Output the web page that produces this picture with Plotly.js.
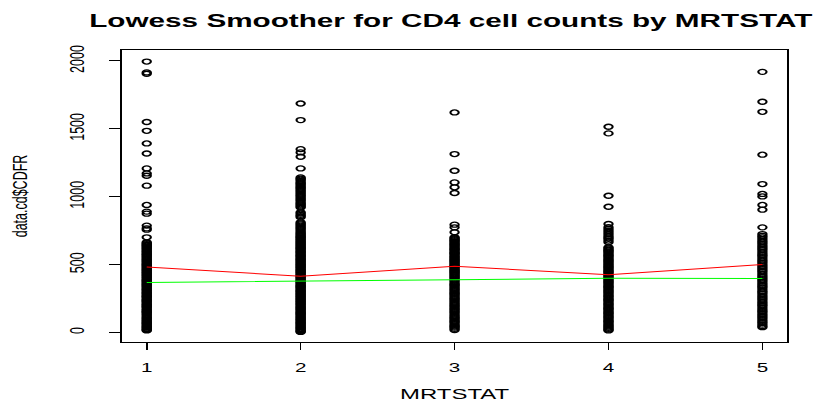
<!DOCTYPE html>
<html>
<head>
<meta charset="utf-8">
<script src="https://cdn.plot.ly/plotly-3.0.1.min.js"></script>
<style>
  html, body { margin: 0; padding: 0; background: #fff; overflow: hidden; }
  /* the figure is laid out narrow and widened horizontally */
  #chart { width: 494px; height: 406px; transform: scaleX(1.65); transform-origin: 0 0; }
</style>
</head>
<body>
<div id="chart"></div>
<script>
// CD4 cell counts (data.cd$CDFR) for each MRTSTAT group
const mrtstatLevels = [1, 2, 3, 4, 5];

const cdfrGroup1 = [1995, 1915, 1905, 1550, 1485, 1392, 1318, 1208, 1171, 1154, 1081, 939, 890, 875,
  787, 767, 757, 701, 664, 658, 651, 645, 640, 633, 627, 620, 614, 607, 600, 594, 588, 580, 575,
  568, 561, 555, 548, 541, 536, 529, 522, 516, 509, 503, 498, 491, 486, 479, 473, 466, 461, 454,
  447, 441, 436, 429, 423, 417, 411, 404, 398, 391, 384, 379, 373, 366, 361, 354, 349, 342, 337,
  330, 322, 316, 311, 304, 297, 291, 285, 278, 271, 266, 262, 255, 247, 241, 236, 230, 224, 217,
  209, 204, 198, 192, 187, 180, 172, 166, 158, 153, 149, 142, 134, 127, 118, 111, 104, 97, 91,
  85, 78, 72, 66, 61, 54, 47, 41, 36, 30, 24, 19, 15];

const cdfrGroup2 = [1686, 1564, 1350, 1326, 1294, 1208, 1142, 1133, 1126, 1117, 1107, 1099, 1091,
  1082, 1074, 1066, 1058, 1049, 1041, 1032, 1023, 1014, 1006, 997, 988, 980, 971, 961, 952, 944,
  936, 928, 921, 885, 876, 866, 857, 848, 811, 803, 796, 787, 779, 771, 763, 754, 745, 737, 729,
  721, 714, 707, 701, 695, 688, 682, 676, 669, 662, 656, 649, 643, 637, 630, 624, 618, 613, 606,
  598, 593, 587, 580, 573, 567, 561, 555, 548, 542, 537, 530, 524, 518, 511, 505, 499, 493, 486,
  480, 475, 468, 461, 456, 450, 444, 438, 431, 424, 419, 413, 407, 401, 394, 387, 382, 376, 370,
  364, 357, 350, 345, 339, 333, 327, 320, 313, 308, 302, 296, 289, 283, 278, 271, 265, 259, 252,
  246, 241, 234, 228, 222, 215, 210, 204, 197, 190, 185, 179, 173, 167, 160, 153, 148, 142, 136,
  130, 123, 116, 111, 104, 98, 93, 86, 79, 74, 68, 62, 56, 49, 42, 37, 31, 25, 19, 13, 8, 4];

const cdfrGroup3 = [1620, 1314, 1191, 1105, 1069, 1027, 794, 774, 738, 701, 694, 687, 680, 673, 666,
  659, 652, 646, 638, 631, 624, 617, 611, 605, 597, 589, 583, 578, 570, 562, 556, 549, 542, 535,
  528, 522, 515, 508, 500, 493, 488, 482, 475, 467, 461, 455, 448, 442, 434, 427, 420, 413, 405,
  397, 389, 381, 371, 361, 354, 347, 338, 329, 321, 313, 304, 295, 287, 279, 270, 261, 253, 245,
  236, 227, 218, 209, 201, 193, 184, 175, 167, 159, 150, 141, 131, 121, 113, 105, 96, 87, 79, 71,
  61, 52, 44, 36, 27, 18];

const cdfrGroup4 = [1515, 1466, 1007, 926, 799, 775, 762, 749, 736, 723, 711, 700, 690, 677, 664,
  627, 620, 611, 604, 598, 590, 581, 573, 565, 557, 549, 540, 532, 525, 518, 509, 501, 493, 485,
  478, 471, 462, 454, 447, 441, 432, 424, 416, 409, 401, 394, 385, 377, 370, 363, 353, 344, 337,
  331, 322, 313, 306, 299, 290, 281, 273, 266, 257, 249, 242, 235, 226, 217, 209, 202, 193, 184,
  177, 171, 162, 153, 146, 139, 130, 121, 114, 107, 98, 89, 82, 75, 66, 57, 50, 43, 35, 27, 21, 15];

const cdfrGroup5 = [1919, 1699, 1625, 1309, 1093, 1020, 1002, 939, 904, 774, 725, 712, 701, 688,
  676, 664, 653, 641, 629, 618, 607, 594, 582, 571, 561, 548, 536, 524, 513, 501, 489, 478, 467,
  456, 446, 432, 419, 409, 398, 386, 375, 362, 351, 341, 331, 318, 305, 296, 285, 272, 261, 250,
  239, 227, 215, 205, 195, 182, 169, 159, 149, 137, 125, 114, 103, 91, 79, 69, 58, 47, 39];

// fitted lowess curves at each MRTSTAT level
const lowessRed = [483, 414, 488, 426, 500];
const lowessGreen = [368, 376, 388, 399, 397];

const groups = [cdfrGroup1, cdfrGroup2, cdfrGroup3, cdfrGroup4, cdfrGroup5];
const pointX = [];
const pointY = [];
groups.forEach((vals, i) => {
  vals.forEach(v => { pointX.push(mrtstatLevels[i]); pointY.push(v); });
});

const font = 'Liberation Sans, Arial, sans-serif';

const traces = [
  {
    type: 'scatter', mode: 'markers', x: pointX, y: pointY,
    marker: { symbol: 'circle-open', size: 5, color: '#000', line: { width: 1.3, color: '#000' } },
    hoverinfo: 'skip', showlegend: false
  },
  {
    type: 'scatter', mode: 'lines', x: mrtstatLevels, y: lowessRed,
    line: { color: '#ff0000', width: 1 }, showlegend: false
  },
  {
    type: 'scatter', mode: 'lines', x: mrtstatLevels, y: lowessGreen,
    line: { color: '#00ff00', width: 1 }, showlegend: false
  }
];

const axisCommon = {
  showgrid: false, zeroline: false,
  showline: true, mirror: true, linecolor: '#000', linewidth: 1,
  ticks: 'outside', tickcolor: '#000', tickwidth: 1,
  automargin: false,
  tickfont: { family: font, size: 12.5, color: '#000' }
};

const layout = {
  width: 494, height: 406,
  margin: { l: 74, r: 17, t: 50, b: 64 },
  paper_bgcolor: '#fff', plot_bgcolor: '#fff',
  showlegend: false,
  title: {
    text: '<b>Lowess Smoother for CD4 cell counts by MRTSTAT</b>',
    font: { family: font, size: 18, color: '#000' },
    x: 0.553, xref: 'container', xanchor: 'center',
    y: 0.950, yref: 'container', yanchor: 'middle'
  },
  xaxis: Object.assign({}, axisCommon, {
    range: [0.84, 5.16],
    tickvals: mrtstatLevels,
    ticktext: mrtstatLevels.map(String),
    ticklen: 7,
    ticklabelstandoff: 7,
    title: { text: 'MRTSTAT', font: { family: font, size: 14.5, color: '#000' }, standoff: 14 }
  }),
  yaxis: Object.assign({}, axisCommon, {
    range: [-70, 2080],
    tickvals: [0, 500, 1000, 1500, 2000],
    ticktext: ['0', '500', '1000', '1500', '2000'],
    tickangle: -90,
    ticklen: 7,
    ticklabelstandoff: 10,
    title: { text: 'data.cd$CDFR', font: { family: font, size: 12.5, color: '#000' }, standoff: 20 }
  })
};

Plotly.newPlot('chart', traces, layout, { staticPlot: true, displayModeBar: false });
</script>
</body>
</html>
